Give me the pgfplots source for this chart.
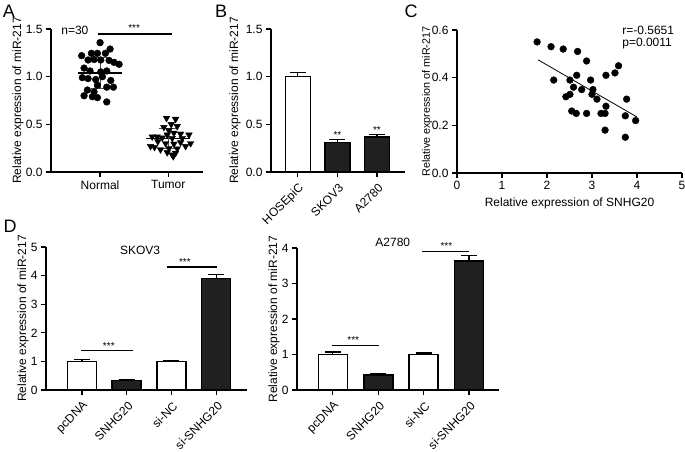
\documentclass[border=0pt]{standalone}
\usepackage{fontspec}
\setmainfont{Liberation Sans}
\usepackage{pgfplots}
\pgfplotsset{compat=1.18}
\definecolor{dk}{RGB}{32,32,32}
\newcommand\fs[1]{\fontsize{#1}{#1}\selectfont}
\pgfplotsset{
 gp/.style={
  scale only axis, anchor=south west,
  axis lines=left,
  axis line style={line width=1.5pt,-},
  every tick/.style={line width=1.2pt,black},
  tick align=outside,
  major tick length=5pt,
  every tick label/.append style={font=\fs{12}},
  /pgf/number format/assume math mode=true,
  clip=false,
  enlargelimits=false,
 },
 ylab/.style 2 args={ylabel={\fs{#2}Relative expression of miR-217},
   every axis y label/.style={at={(rel axis cs:0,0.5)}, xshift=#1, rotate=90, anchor=center}},
 barw/.style={ybar, bar width=#1, bar shift=0pt, line width=1.6pt, draw=black,
   error bars/y dir=plus, error bars/y explicit,
   error bars/error bar style={line width=1.2pt, black, solid},
   error bars/error mark options={rotate=90, mark size=8pt, line width=1.2pt, black}},
 rotx/.style={xticklabel style={xshift=4pt, yshift=-9pt, rotate=45, anchor=east, inner sep=0pt}},
 fix1/.style={yticklabel style={/pgf/number format/.cd, fixed, fixed zerofill, precision=1}},
}
\begin{document}
\begin{tikzpicture}[x=1pt,y=1pt]
\useasboundingbox (0pt,0pt) rectangle (685pt,-451pt);
% panel letters
\node[font=\fs{18}] at (9pt,-11pt) {A};
\node[font=\fs{18}] at (221pt,-11pt) {B};
\node[font=\fs{18}] at (411pt,-11pt) {C};
\node[font=\fs{18}] at (10pt,-226pt) {D};

% ---------------- A ----------------
\begin{axis}[gp, fix1, ylab={-33pt}{12}, at={(51pt,-172pt)}, width=152pt, height=143pt,
  xmin=0.28, xmax=2.51, ymin=0, ymax=1.5,
  xtick={1,2}, xticklabels={Normal,Tumor},
  ytick={0,0.5,1,1.5}]
\addplot[only marks, mark=*, mark size=3.4pt, black] coordinates {
(1.0,1.357) (1.147,1.29) (0.730,1.22) (0.873,1.245) (0.961,1.245) (1.078,1.245)
(0.824,1.175) (0.912,1.18) (1.010,1.175) (1.132,1.17) (1.206,1.15) (1.279,1.13)
(0.765,1.09) (0.853,1.06) (1.010,1.05) (1.098,1.06) (0.740,0.99) (0.824,0.98)
(0.936,0.97) (1.034,1.0) (1.157,0.96) (0.961,0.91) (1.098,0.89) (1.196,0.89)
(0.814,0.86) (0.912,0.84) (0.765,0.80) (0.887,0.79) (0.961,0.78) (1.098,0.735)};
\addplot[only marks, mark=triangle*, mark size=3.8pt, mark options={rotate=180}, black] coordinates {
(1.975,0.565) (2.108,0.555) (2.044,0.50) (1.936,0.47) (2.132,0.48) (2.010,0.435)
(2.083,0.41) (2.181,0.40) (1.765,0.37) (1.838,0.37) (1.912,0.36) (1.985,0.39)
(2.059,0.355) (2.206,0.355) (2.304,0.39) (1.740,0.27) (1.799,0.26) (1.961,0.30)
(2.083,0.295) (2.181,0.31) (2.328,0.30) (1.887,0.235) (2.010,0.25) (2.132,0.245)
(2.255,0.27) (1.985,0.205) (2.059,0.18) (2.108,0.20) (2.074,0.164) (1.848,0.32)};
% mean and SD
\addplot[black, line width=1.6pt] coordinates {(0.68,1.04) (1.32,1.04)};
\addplot[black!70, line width=1pt] coordinates {(1,0.88) (1,1.2)};
\addplot[black!70, line width=1pt] coordinates {(0.86,1.2) (1.14,1.2)};
\addplot[black!70, line width=1pt] coordinates {(0.86,0.88) (1.14,0.88)};
\addplot[black, line width=1.6pt] coordinates {(1.68,0.35) (2.32,0.35)};
\addplot[black!70, line width=1pt] coordinates {(2,0.245) (2,0.455)};
\addplot[black!70, line width=1pt] coordinates {(1.86,0.455) (2.14,0.455)};
\addplot[black!70, line width=1pt] coordinates {(1.86,0.245) (2.14,0.245)};
\draw[line width=1.2pt] (axis cs:0.97,1.448) -- (axis cs:2.06,1.448);
\node[font=\fs{10}, anchor=south, inner sep=0pt] at (axis cs:1.5,1.47) {***};
\node[font=\fs{12}] at (axis cs:0.63,1.49) {n=30};
\end{axis}

% ---------------- B ----------------
\begin{axis}[gp, fix1, rotx, ylab={-36pt}{12}, at={(271pt,-172pt)}, width=134pt, height=143pt,
  xmin=-0.68, xmax=2.71, ymin=0, ymax=1.5,
  xtick={0,1,2}, xticklabels={HOSEpiC,SKOV3,A2780},
  ytick={0,0.5,1,1.5}]
\addplot[fill=white, barw=25pt] coordinates {(0,1.0) +- (0,0.045)};
\addplot[fill=dk, barw=25pt] coordinates {(1,0.31) +- (0,0.03)};
\addplot[fill=dk, barw=25pt] coordinates {(2,0.37) +- (0,0.025)};
\node[font=\fs{10}, anchor=south, inner sep=0pt] at (axis cs:1,0.35) {**};
\node[font=\fs{10}, anchor=south, inner sep=0pt] at (axis cs:2,0.405) {**};
\end{axis}

% ---------------- C ----------------
\begin{axis}[gp, fix1, ylab={-30pt}{10.8}, at={(457pt,-173pt)}, width=225pt, height=143pt,
  xmin=0, xmax=5, ymin=0, ymax=0.6,
  xtick={0,1,2,3,4,5}, ytick={0,0.2,0.4,0.6},
  xlabel={\fs{12}Relative expression of SNHG20},
  every axis x label/.style={at={(rel axis cs:0.5,0)}, anchor=center, yshift=-30pt}]
\addplot[only marks, mark=*, mark size=3.4pt, black] coordinates {
(1.78,0.55) (2.09,0.53) (2.36,0.52) (2.68,0.51) (2.88,0.47) (2.15,0.39)
(2.51,0.39) (2.66,0.41) (2.97,0.39) (3.31,0.41) (3.51,0.42) (3.59,0.45)
(2.59,0.36) (2.77,0.35) (3.02,0.35) (3.00,0.33) (2.42,0.32) (2.51,0.33)
(3.11,0.31) (3.77,0.31) (2.55,0.26) (2.65,0.25) (2.88,0.25) (3.20,0.25)
(3.29,0.25) (3.31,0.28) (3.74,0.24) (3.97,0.22) (3.29,0.18) (3.74,0.15)};
\addplot[black, line width=0.8pt] coordinates {(1.8,0.475) (4.0,0.235)};
\node[font=\fs{12}, anchor=west, inner sep=0pt] at (axis cs:3.67,0.60) {r=-0.5651};
\node[font=\fs{12}, anchor=west, inner sep=0pt] at (axis cs:3.67,0.542) {p=0.0011};
\end{axis}

% ---------------- D left ----------------
\begin{axis}[gp, rotx, ylab={-23pt}{12}, at={(46pt,-390pt)}, width=201pt, height=143pt,
  xmin=-0.805, xmax=3.69, ymin=0, ymax=5,
  xtick={0,1,2,3}, xticklabels={pcDNA,SNHG20,si-NC,si-SNHG20},
  ytick={0,1,2,3,4,5}]
\addplot[fill=white, barw=29pt] coordinates {(0,1.0) +- (0,0.07)};
\addplot[fill=dk, barw=29pt] coordinates {(1,0.33) +- (0,0.04)};
\addplot[fill=white, barw=29pt] coordinates {(2,1.0) +- (0,0.03)};
\addplot[fill=dk, barw=29pt] coordinates {(3,3.9) +- (0,0.15)};
\draw[line width=1.2pt] (axis cs:-0.02,1.38) -- (axis cs:1.14,1.38);
\node[font=\fs{10}, anchor=south, inner sep=0pt] at (axis cs:0.6,1.42) {***};
\draw[line width=1.2pt] (axis cs:1.9,4.3) -- (axis cs:3.02,4.3);
\node[font=\fs{10}, anchor=south, inner sep=0pt] at (axis cs:2.3,4.34) {***};
\node[font=\fs{12}] at (axis cs:1.30,4.9) {SKOV3};
\end{axis}

% ---------------- D right ----------------
\begin{axis}[gp, rotx, ylab={-23pt}{12}, at={(297pt,-390pt)}, width=202pt, height=142pt,
  xmin=-0.79, xmax=3.66, ymin=0, ymax=4,
  xtick={0,1,2,3}, xticklabels={pcDNA,SNHG20,si-NC,si-SNHG20},
  ytick={0,1,2,3,4}]
\addplot[fill=white, barw=29pt] coordinates {(0,1.0) +- (0,0.07)};
\addplot[fill=dk, barw=29pt] coordinates {(1,0.42) +- (0,0.03)};
\addplot[fill=white, barw=29pt] coordinates {(2,1.0) +- (0,0.04)};
\addplot[fill=dk, barw=29pt] coordinates {(3,3.63) +- (0,0.16)};
\draw[line width=1.2pt] (axis cs:-0.02,1.26) -- (axis cs:1.02,1.26);
\node[font=\fs{10}, anchor=south, inner sep=0pt] at (axis cs:0.45,1.3) {***};
\draw[line width=1.2pt] (axis cs:1.96,3.91) -- (axis cs:3.0,3.91);
\node[font=\fs{10}, anchor=south, inner sep=0pt] at (axis cs:2.5,3.95) {***};
\node[font=\fs{12}] at (axis cs:1.32,4.17) {A2780};
\end{axis}
\end{tikzpicture}
\end{document}
